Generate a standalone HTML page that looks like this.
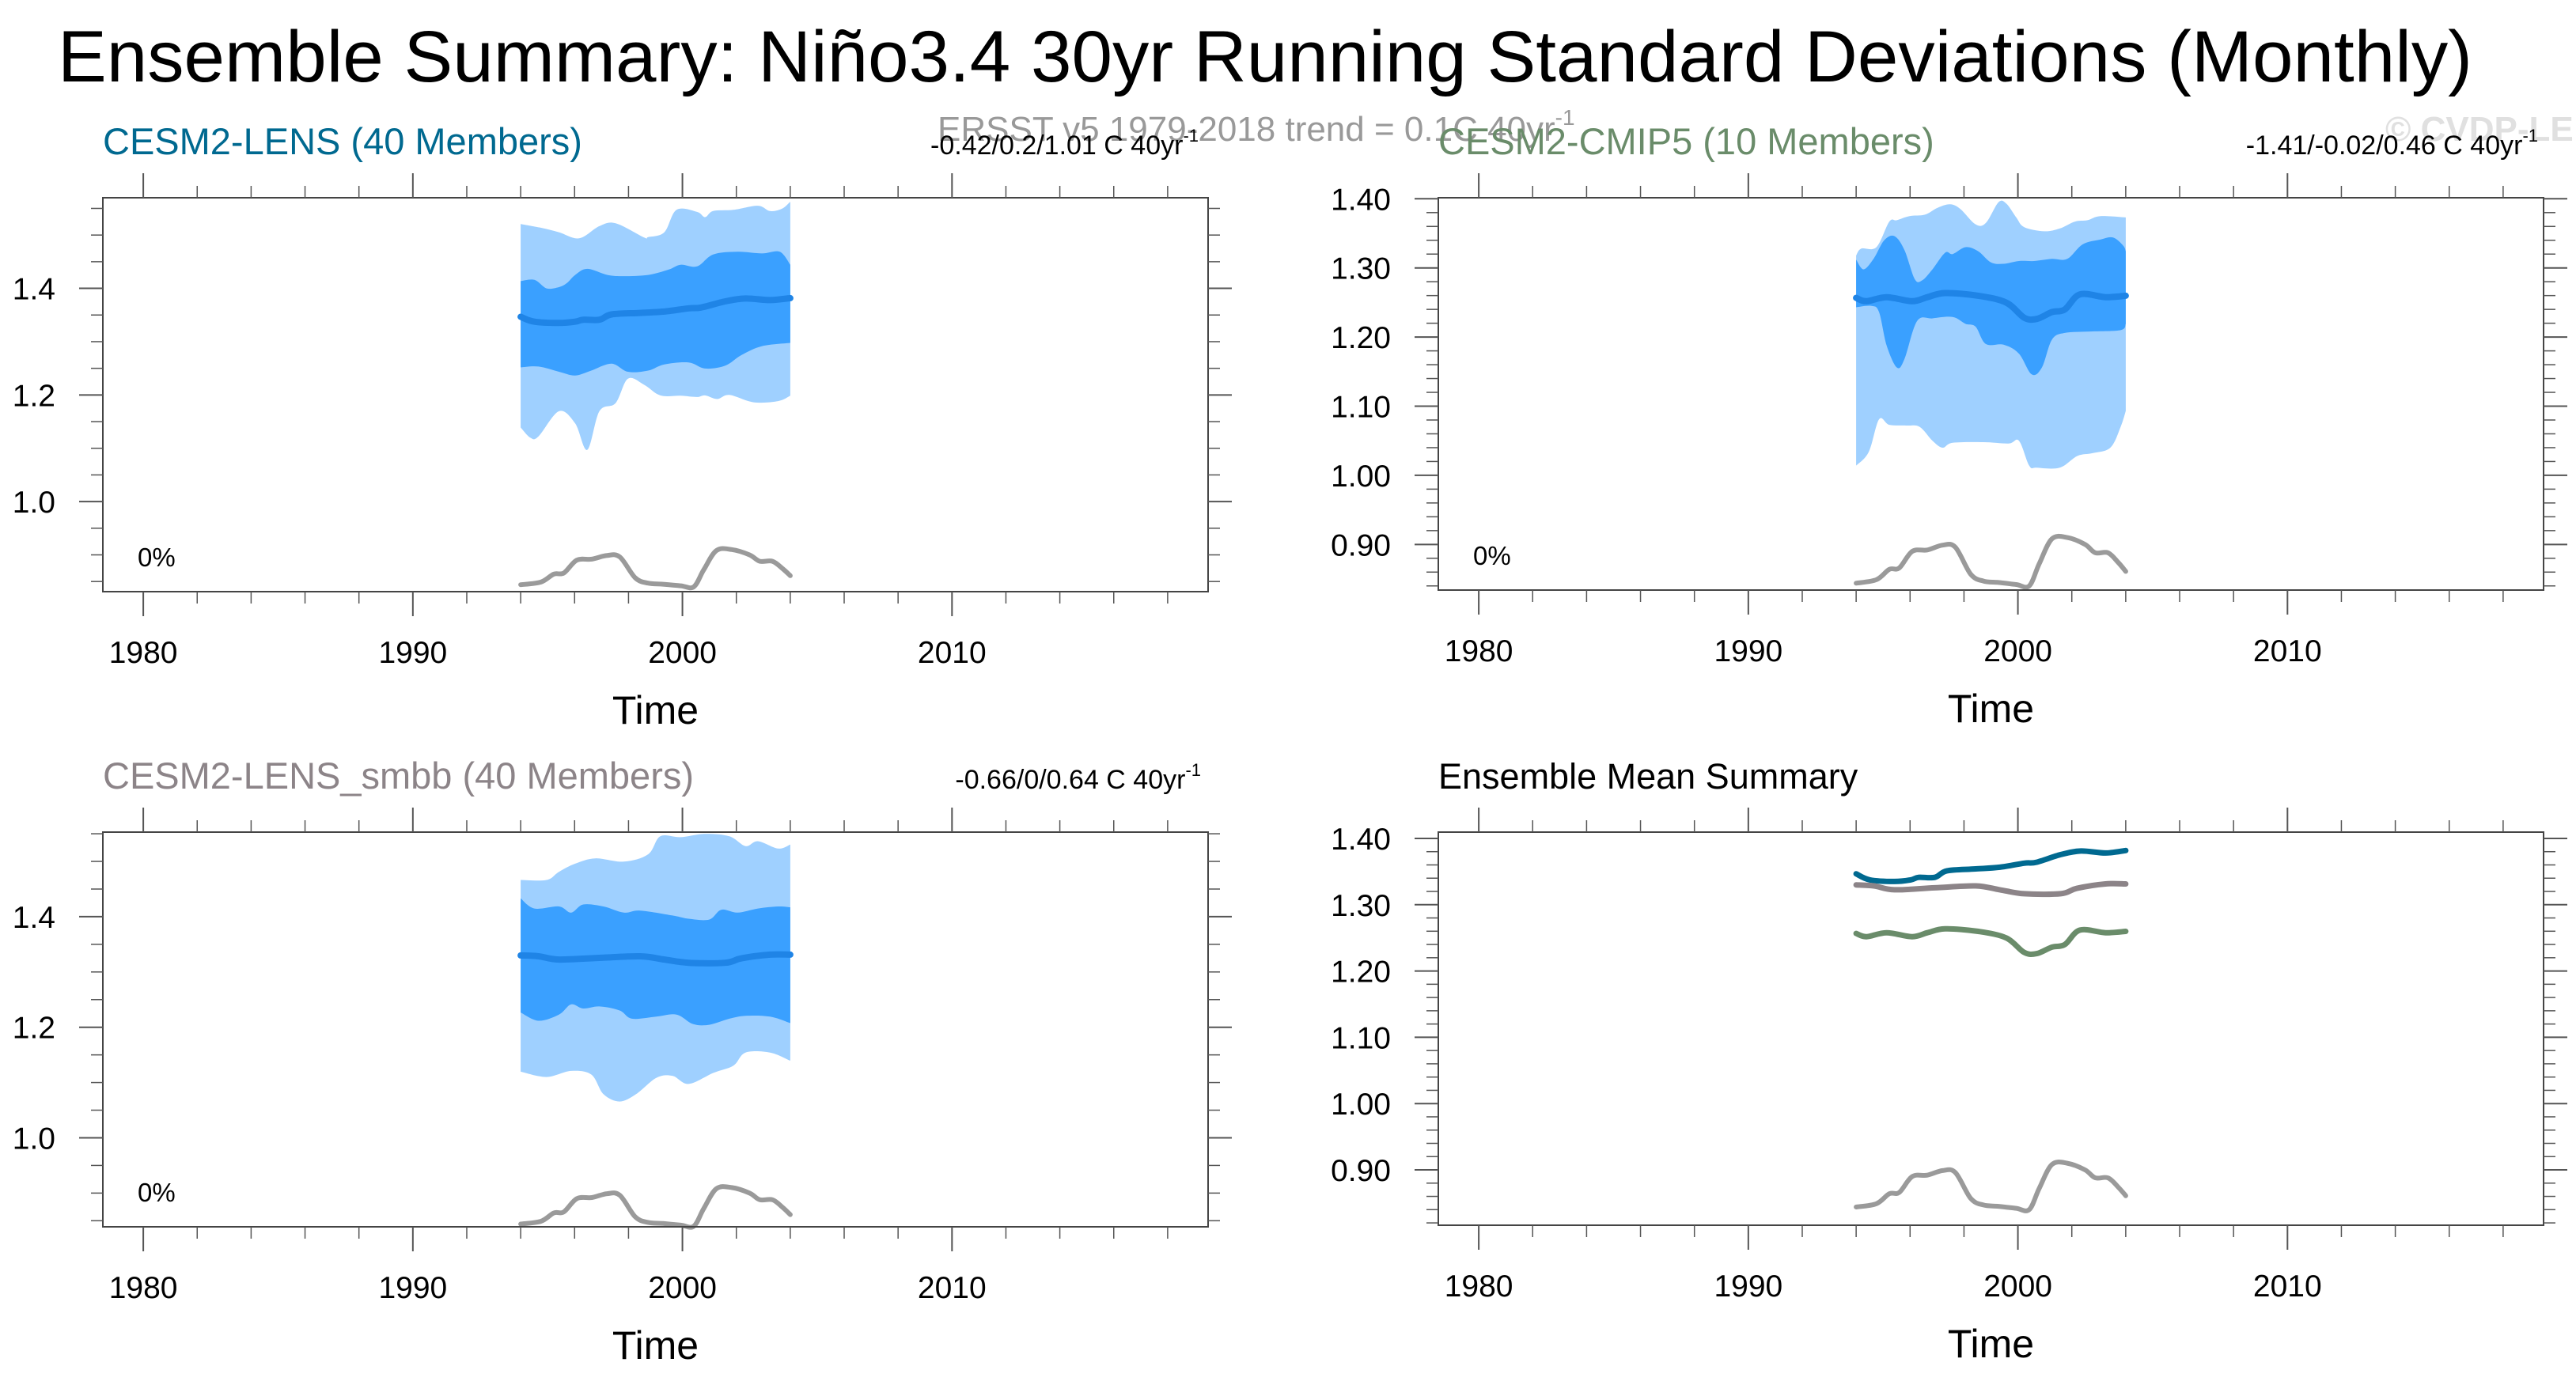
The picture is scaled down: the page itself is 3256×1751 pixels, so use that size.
<!DOCTYPE html>
<html><head><meta charset="utf-8"><style>
html,body{margin:0;padding:0;background:#fff}
svg{display:block;font-family:"Liberation Sans",sans-serif}
</style></head><body>
<svg id="fig" width="3256" height="1751" viewBox="0 0 3256 1751" xmlns="http://www.w3.org/2000/svg">
<text x="73" y="103" font-size="92" textLength="3052" lengthAdjust="spacingAndGlyphs" fill="#000">Ensemble Summary: Niño3.4 30yr Running Standard Deviations (Monthly)</text>
<text x="1185" y="178" font-size="44" fill="#999">ERSST v5 1979-2018 trend = 0.1C 40yr<tspan dy="-20" font-size="28">-1</tspan></text>
<text x="3015" y="178" font-size="44" font-weight="bold" fill="#e0e0e0">© CVDP-LE</text>
<g id="panels"></g>
</svg>
<script>
// ---- data ----
const obsYears = [1994.00,1994.75,1995.23,1995.60,1996.08,1996.64,1997.21,1997.68,1998.25,1998.72,1999.28,1999.94,2000.42,2000.79,2001.26,2001.83,2002.49,2002.87,2003.34,2003.72,2004.00];
const obsValues = [0.844,0.849,0.864,0.866,0.890,0.892,0.899,0.896,0.857,0.847,0.845,0.842,0.840,0.872,0.908,0.910,0.900,0.888,0.888,0.874,0.861];

const lensMeanYears = [1994.00,1994.51,1995.42,1996.02,1996.32,1996.92,1997.37,1998.43,1999.33,2000.23,2000.69,2001.59,2002.34,2003.25,2004.00];
const lensMean = [1.3466,1.3374,1.3351,1.3374,1.3412,1.3412,1.3511,1.354,1.3565,1.3626,1.3641,1.3756,1.381,1.378,1.3817];
const lensOuterUpYears = [1994.00,1994.81,1995.42,1996.17,1996.92,1997.52,1998.58,1998.73,1999.33,1999.78,2000.54,2000.84,2001.14,2001.89,2002.80,2003.25,2003.70,2004.00];
const lensOuterUp = [1.5206,1.513,1.5053,1.4939,1.5168,1.522,1.4954,1.4962,1.5053,1.5473,1.5435,1.5336,1.545,1.5473,1.555,1.545,1.5496,1.5626];
const lensOuterLoYears = [1994.00,1994.36,1994.66,1995.42,1996.02,1996.47,1996.92,1997.52,1997.98,1998.58,1999.18,1999.93,2000.54,2000.84,2001.29,2001.74,2002.64,2003.55,2004.00];
const lensOuterLo = [1.1389,1.1198,1.1221,1.1695,1.1466,1.0969,1.1695,1.1847,1.2305,1.219,1.1992,1.1985,1.1962,1.1992,1.1924,1.2,1.1863,1.1885,1.1985];
const lensInnerUpYears = [1994.00,1994.51,1994.96,1995.42,1995.72,1996.02,1996.47,1997.22,1997.83,1998.73,1999.48,1999.93,2000.54,2001.14,2002.04,2002.95,2003.61,2004.00];
const lensInnerUp = [1.4137,1.416,1.4,1.4023,1.41,1.4252,1.4366,1.4252,1.4229,1.4252,1.4351,1.4443,1.4412,1.4634,1.4687,1.4656,1.4687,1.4443];
const lensInnerLoYears = [1994.00,1994.66,1995.42,1996.02,1996.62,1997.37,1997.98,1998.73,1999.33,2000.23,2000.84,2001.59,2002.19,2002.95,2004.00];
const lensInnerLo = [1.2519,1.2534,1.2435,1.2366,1.2458,1.2588,1.2435,1.2458,1.2573,1.2611,1.2496,1.255,1.2748,1.2916,1.2977];

const cmipMeanYears = [1994.00,1994.38,1995.13,1996.08,1996.64,1997.30,1998.53,1999.57,2000.23,2000.70,2001.26,2001.74,2002.30,2003.25,2004.00];
const cmipMean = [1.2566,1.2518,1.2577,1.2518,1.2577,1.2636,1.2597,1.2498,1.2281,1.2262,1.236,1.2399,1.2617,1.2577,1.2597];
const cmipOuterUpYears = [1994.00,1994.19,1994.75,1995.23,1995.51,1995.98,1996.55,1997.02,1997.49,1997.87,1998.43,1998.81,1999.28,1999.57,1999.94,2000.23,2000.98,2001.55,2002.11,2002.58,2003.06,2004.00];
const cmipOuterUp = [1.318,1.328,1.330,1.367,1.369,1.375,1.377,1.387,1.392,1.385,1.363,1.365,1.395,1.393,1.373,1.359,1.353,1.357,1.367,1.369,1.375,1.373];
const cmipOuterLoYears = [1994.00,1994.47,1994.85,1995.23,1995.89,1996.36,1996.83,1997.21,1997.58,1998.72,1999.66,2000.04,2000.42,2000.70,2001.55,2002.21,2002.77,2003.43,2003.81,2004.00];
const cmipOuterLo = [1.014,1.034,1.081,1.073,1.072,1.070,1.050,1.040,1.047,1.048,1.046,1.050,1.014,1.011,1.011,1.028,1.032,1.040,1.070,1.093];
const cmipInnerUpYears = [1994.00,1994.28,1994.66,1995.04,1995.42,1995.79,1996.17,1996.45,1996.83,1997.30,1997.58,1998.06,1998.53,1999.00,1999.47,2000.04,2000.60,2001.26,2001.83,2002.40,2003.06,2003.53,2003.91,2004.00];
const cmipInnerUp = [1.312,1.298,1.314,1.340,1.346,1.326,1.284,1.282,1.298,1.322,1.320,1.330,1.324,1.308,1.306,1.310,1.310,1.313,1.313,1.334,1.341,1.344,1.332,1.324];
const cmipInnerLoYears = [1994.00,1994.57,1994.85,1995.13,1995.51,1995.79,1996.26,1996.83,1997.58,1998.06,1998.43,1998.81,1999.47,2000.04,2000.51,2000.89,2001.26,2001.74,2002.68,2003.81,2004.00];
const cmipInnerLo = [1.243,1.245,1.236,1.188,1.156,1.168,1.223,1.227,1.229,1.219,1.215,1.190,1.189,1.176,1.146,1.156,1.196,1.206,1.208,1.210,1.219];

const smbbMeanYears = [1994.00,1994.66,1995.42,1996.92,1998.43,1999.33,2000.23,2001.59,2002.19,2003.25,2004.00];
const smbbMean = [1.3299,1.3284,1.3225,1.3255,1.3284,1.3225,1.3166,1.3166,1.3247,1.3314,1.3314];
const smbbOuterUpYears = [1994.00,1994.96,1995.42,1996.02,1996.77,1997.83,1998.73,1999.18,1999.93,2000.84,2001.74,2002.34,2002.80,2003.55,2004.00];
const smbbOuterUp = [1.4664,1.4664,1.4812,1.4959,1.5055,1.4996,1.5129,1.5454,1.5439,1.5498,1.5454,1.5277,1.5365,1.5232,1.5306];
const smbbOuterLoYears = [1994.00,1994.96,1995.87,1996.62,1997.07,1997.67,1998.28,1999.03,1999.63,2000.23,2001.14,2001.89,2002.34,2003.25,2004.00];
const smbbOuterLo = [1.1196,1.11,1.121,1.1144,1.079,1.0657,1.079,1.1085,1.1122,1.0974,1.1173,1.1306,1.1542,1.1542,1.1395];
const smbbInnerUpYears = [1994.00,1994.51,1995.42,1995.87,1996.32,1997.07,1997.83,1998.43,1999.63,2000.23,2000.99,2001.44,2002.04,2002.80,2003.55,2004.00];
const smbbInnerUp = [1.4332,1.4148,1.4185,1.4074,1.4221,1.4185,1.4074,1.4111,1.4022,1.3963,1.3948,1.4125,1.4074,1.4148,1.4185,1.417];
const smbbInnerLoYears = [1994.00,1994.66,1995.42,1995.87,1996.32,1996.92,1997.67,1998.13,1999.03,1999.78,2000.39,2000.99,2001.74,2002.34,2003.25,2004.00];
const smbbInnerLo = [1.2266,1.2118,1.2229,1.2413,1.2339,1.2376,1.2303,1.2155,1.2192,1.2229,1.2059,1.2044,1.2155,1.2207,1.2192,1.2074];

const xTickYears = [1980,1990,2000,2010];
const xTickLabels = ["1980","1990","2000","2010"];
const yTicksCoarse = [1.0,1.2,1.4];
const yLabelsCoarse = ["1.0","1.2","1.4"];
const yTicksFine = [0.9,1.0,1.1,1.2,1.3,1.4];
const yLabelsFine = ["0.90","1.00","1.10","1.20","1.30","1.40"];

// ---- drawing ----
const NS = "http://www.w3.org/2000/svg";
const root = document.getElementById('panels');
function mk(tag, attrs, parent){ const e=document.createElementNS(NS,tag); for(const k in attrs) e.setAttribute(k,attrs[k]); (parent||root).appendChild(e); return e; }

// smooth path through points (Catmull-Rom -> cubic Bezier)
function smooth(P, start){
  let d = start ? 'M'+P[0][0].toFixed(1)+','+P[0][1].toFixed(1) : 'L'+P[0][0].toFixed(1)+','+P[0][1].toFixed(1);
  for(let i=0;i<P.length-1;i++){
    const p0=P[Math.max(0,i-1)], p1=P[i], p2=P[i+1], p3=P[Math.min(P.length-1,i+2)];
    const c1=[p1[0]+(p2[0]-p0[0])/6, p1[1]+(p2[1]-p0[1])/6];
    const c2=[p2[0]-(p3[0]-p1[0])/6, p2[1]-(p3[1]-p1[1])/6];
    d+=' C'+c1[0].toFixed(1)+','+c1[1].toFixed(1)+' '+c2[0].toFixed(1)+','+c2[1].toFixed(1)+' '+p2[0].toFixed(1)+','+p2[1].toFixed(1);
  }
  return d;
}

const XMIN=1978.5, XMAX=2019.5;
const panels = [
  {id:'cesm2-lens', x0:130,y0:250,w:1397,h:498,ymin:0.831,ymax:1.570,ticks:yTicksCoarse,labels:yLabelsCoarse,minor:0.05,
   title:'CESM2-LENS (40 Members)',tcol:'#006990',trend:'-0.42/0.2/1.01 C 40yr',trendEnd:1515,
   bands:[[lensOuterUpYears,lensOuterUp,lensOuterLoYears,lensOuterLo],[lensInnerUpYears,lensInnerUp,lensInnerLoYears,lensInnerLo]],mean:[lensMeanYears,lensMean]},
  {id:'cesm2-cmip5', x0:1818,y0:250,w:1397,h:496,ymin:0.834,ymax:1.4015,ticks:yTicksFine,labels:yLabelsFine,minor:0.02,
   title:'CESM2-CMIP5 (10 Members)',tcol:'#6a8c6a',trend:'-1.41/-0.02/0.46 C 40yr',trendEnd:3208,
   bands:[[cmipOuterUpYears,cmipOuterUp,cmipOuterLoYears,cmipOuterLo],[cmipInnerUpYears,cmipInnerUp,cmipInnerLoYears,cmipInnerLo]],mean:[cmipMeanYears,cmipMean]},
  {id:'cesm2-lens-smbb', x0:130,y0:1052,w:1397,h:499,ymin:0.839,ymax:1.553,ticks:yTicksCoarse,labels:yLabelsCoarse,minor:0.05,
   title:'CESM2-LENS_smbb (40 Members)',tcol:'#8c8488',trend:'-0.66/0/0.64 C 40yr',trendEnd:1518,
   bands:[[smbbOuterUpYears,smbbOuterUp,smbbOuterLoYears,smbbOuterLo],[smbbInnerUpYears,smbbInnerUp,smbbInnerLoYears,smbbInnerLo]],mean:[smbbMeanYears,smbbMean]},
  {id:'ensemble-mean-summary', x0:1818,y0:1052,w:1397,h:497,ymin:0.8165,ymax:1.4095,ticks:yTicksFine,labels:yLabelsFine,minor:0.02,
   title:'Ensemble Mean Summary',tcol:'#000',trend:null,summary:true}
];

panels.forEach(p=>{
  const g = mk('g',{});
  
  
  const X = v => p.x0 + (v-XMIN)/(XMAX-XMIN)*p.w;
  const Y = v => p.y0 + (p.ymax-v)/(p.ymax-p.ymin)*p.h;
  const P = (xs,ys)=> xs.map((x,i)=>[X(x),Y(ys[i])]);

  if(!p.summary){
    const cols=['#9fd0ff','#3aa0ff'];
    p.bands.forEach((b,i)=>{
      const d = smooth(P(b[0],b[1]),true)+' '+smooth(P(b[2],b[3]).reverse(),false)+' Z';
      const poly = mk('path',{d:d, fill:cols[i]}, g);
      
      
    });
    const m = mk('path',{d:smooth(P(p.mean[0],p.mean[1]),true),fill:'none',stroke:'#1f84e6','stroke-width':8,'stroke-linejoin':'round','stroke-linecap':'round'}, g);
    
    
  } else {
    const series=[[lensMeanYears,lensMean,'#006990','cesm2-lens-mean-line'],[smbbMeanYears,smbbMean,'#8c8488','cesm2-lens-smbb-mean-line'],[cmipMeanYears,cmipMean,'#6a8c6a','cesm2-cmip5-mean-line']];
    series.forEach(s=>{
      const l = mk('path',{d:smooth(P(s[0],s[1]),true),fill:'none',stroke:s[2],'stroke-width':7,'stroke-linejoin':'round','stroke-linecap':'round'}, g);
      
      
    });
  }
  const o = mk('path',{d:smooth(P(obsYears,obsValues),true),fill:'none',stroke:'#9a9a9a','stroke-width':6,'stroke-linejoin':'round','stroke-linecap':'round'}, g);
  
  

  const fr = mk('rect',{x:p.x0,y:p.y0,width:p.w,height:p.h,fill:'none',stroke:'#444','stroke-width':2}, g);
  
  

  for(let yr=1980; yr<=2018; yr+=2){
    const major = yr%10===0, len = major?31:15, x=X(yr);
    mk('line',{x1:x,y1:p.y0,x2:x,y2:p.y0-len,stroke:'#555','stroke-width':major?2:1.5}, g);
    mk('line',{x1:x,y1:p.y0+p.h,x2:x,y2:p.y0+p.h+len,stroke:'#555','stroke-width':major?2:1.5}, g);
  }
  xTickYears.forEach((yr,i)=>{
    const t = mk('text',{x:X(yr),y:p.y0+p.h+90,'font-size':39,'text-anchor':'middle',fill:'#000'}, g);
    t.textContent = xTickLabels[i];
    
    
  });
  const xt = mk('text',{x:p.x0+p.w/2,y:p.y0+p.h+167,'font-size':50,'text-anchor':'middle',fill:'#000'}, g);
  xt.textContent='Time';
  
  

  const nMin = Math.ceil(p.ymin/p.minor-1e-6), nMax=Math.floor(p.ymax/p.minor+1e-6);
  for(let n=nMin;n<=nMax;n++){
    const v=n*p.minor, y=Y(v);
    const major = p.ticks.some(t=>Math.abs(t-v)<1e-6), len=major?30:15;
    mk('line',{x1:p.x0,y1:y,x2:p.x0-len,y2:y,stroke:'#555','stroke-width':major?2:1.5}, g);
    mk('line',{x1:p.x0+p.w,y1:y,x2:p.x0+p.w+len,y2:y,stroke:'#555','stroke-width':major?2:1.5}, g);
  }
  p.ticks.forEach((v,i)=>{
    const t = mk('text',{x:p.x0-60,y:Y(v)+14,'font-size':39,'text-anchor':'end',fill:'#000'}, g);
    t.textContent = p.labels[i];
    
    
  });

  const st = mk('text',{x:p.x0,y:p.y0-55,'font-size':p.summary?45:47,fill:p.tcol}, g);
  st.textContent = p.title;
  
  
  if(p.trend){
    const tr = mk('text',{x:p.trendEnd,y:p.y0-55,'font-size':34,'text-anchor':'end',fill:'#000'}, g);
    tr.textContent = p.trend;
    const sup = mk('tspan',{dy:-16,'font-size':22}, tr);
    sup.textContent='-1';
    
    
    const pc = mk('text',{x:p.x0+44,y:p.y0+p.h-32,'font-size':33,fill:'#000'}, g);
    pc.textContent='0%';
    
    
  }
});
</script>
</body></html>
